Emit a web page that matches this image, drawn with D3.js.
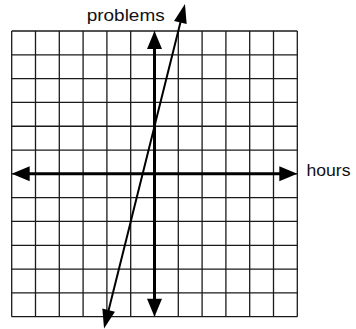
<!DOCTYPE html>
<html>
<head>
<meta charset="utf-8">
<script src="https://cdn.jsdelivr.net/npm/d3@7"></script>
<style>
  body { margin: 0; background: #fff; }
  svg { display: block; }
  .label { font-family: 'Liberation Sans', Arial, sans-serif; fill: #111; }
</style>
</head>
<body>
<div id="chart"></div>
<script>
const width = 356;
const height = 329;

// grid runs from -6 to 6 on both axes, one line per unit
const gridTicks = d3.range(-6, 7);
const axisExtent = [-6, 6];
// the plotted line, as its two arrow tips in data units
const lineX = [-2.12, 1.28];
const lineY = [-6.5, 7.13];
const xLabel = 'hours';
const yLabel = 'problems';

const x = d3.scaleLinear().domain([-6, 6]).range([11.7, 297.3]);
const y = d3.scaleLinear().domain([-6, 6]).range([316.7, 31]);

const svg = d3.select('#chart').append('svg')
  .attr('width', width)
  .attr('height', height);

// grid
const grid = svg.append('g')
  .attr('stroke', '#1a1a1a')
  .attr('stroke-width', 1.3);

grid.selectAll('line.v')
  .data(gridTicks)
  .enter()
  .append('line')
  .attr('class', 'v')
  .attr('x1', d => x(d))
  .attr('x2', d => x(d))
  .attr('y1', y(-6))
  .attr('y2', y(6));

grid.selectAll('line.h')
  .data(gridTicks)
  .enter()
  .append('line')
  .attr('class', 'h')
  .attr('y1', d => y(d))
  .attr('y2', d => y(d))
  .attr('x1', x(-6))
  .attr('x2', x(6));

// arrowhead with its tip at (tx, ty), pointing along (dx, dy)
function arrowHead(g, tx, ty, dx, dy, len, half) {
  const n = Math.hypot(dx, dy);
  const ux = dx / n;
  const uy = dy / n;
  const bx = tx - ux * len;
  const by = ty - uy * len;
  const pts = [
    [tx, ty],
    [bx - uy * half, by + ux * half],
    [bx + uy * half, by - ux * half],
  ];
  g.append('path')
    .attr('d', d3.line()(pts) + 'Z')
    .attr('fill', '#000');
}

// axes
const axes = svg.append('g');

axes.append('line')
  .attr('x1', x(axisExtent[0]) + 12)
  .attr('x2', x(axisExtent[1]) - 12)
  .attr('y1', y(0))
  .attr('y2', y(0))
  .attr('stroke', '#000')
  .attr('stroke-width', 3);

axes.append('line')
  .attr('x1', x(0))
  .attr('x2', x(0))
  .attr('y1', y(axisExtent[1]) + 12)
  .attr('y2', y(axisExtent[0]) - 12)
  .attr('stroke', '#000')
  .attr('stroke-width', 3);

arrowHead(axes, x(axisExtent[0]), y(0), -1, 0, 18, 7.5);
arrowHead(axes, x(axisExtent[1]), y(0), 1, 0, 18, 7.5);
arrowHead(axes, x(0), y(axisExtent[1]), 0, -1, 18, 7.5);
arrowHead(axes, x(0), y(axisExtent[0]), 0, 1, 18, 7.5);

// the line
const p0 = [x(lineX[0]), y(lineY[0])];
const p1 = [x(lineX[1]), y(lineY[1])];
const ldx = p1[0] - p0[0];
const ldy = p1[1] - p0[1];
const llen = Math.hypot(ldx, ldy);
const inset = 12;

svg.append('line')
  .attr('x1', p0[0] + ldx / llen * inset)
  .attr('y1', p0[1] + ldy / llen * inset)
  .attr('x2', p1[0] - ldx / llen * inset)
  .attr('y2', p1[1] - ldy / llen * inset)
  .attr('stroke', '#000')
  .attr('stroke-width', 2);

arrowHead(svg, p1[0], p1[1], ldx, ldy, 19, 6.5);
arrowHead(svg, p0[0], p0[1], -ldx, -ldy, 19, 6.5);

// labels
svg.append('text')
  .attr('class', 'label')
  .attr('x', 86.7)
  .attr('y', 21)
  .attr('textLength', 78)
  .attr('lengthAdjust', 'spacingAndGlyphs')
  .style('font-size', '16.5px')
  .text(yLabel);

svg.append('text')
  .attr('class', 'label')
  .attr('x', 306.5)
  .attr('y', 176)
  .attr('textLength', 44)
  .attr('lengthAdjust', 'spacingAndGlyphs')
  .style('font-size', '17px')
  .text(xLabel);
</script>
</body>
</html>
